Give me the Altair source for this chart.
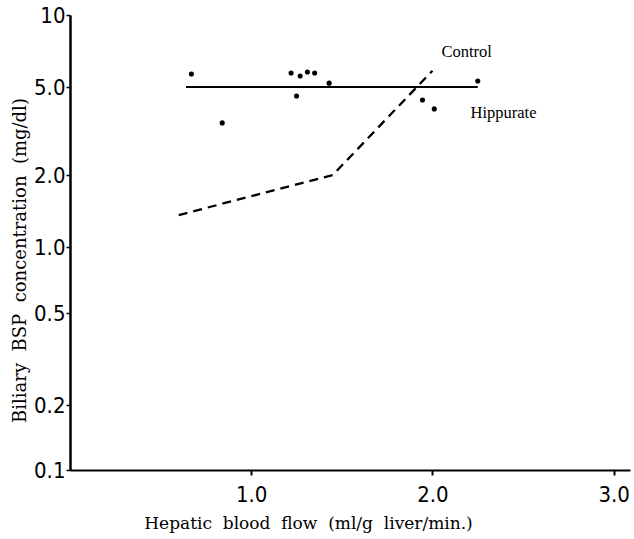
import altair as alt
import pandas as pd

# Hippurate data points
hip_x = [0.67, 0.84, 1.22, 1.27, 1.31, 1.35, 1.43, 1.25, 1.945, 2.01, 2.25]
hip_y = [5.67, 3.44, 5.72, 5.56, 5.78, 5.72, 5.19, 4.55, 4.37, 3.98, 5.30]

# Hippurate mean line
mean_x = [0.64, 2.25]
mean_y = [5.0, 5.0]

# Control dashed line
ctrl_x = [0.60, 1.45, 2.00]
ctrl_y = [1.36, 2.0, 5.85]

lab_text = ["Control", "Hippurate"]
lab_x = [2.05, 2.21]
lab_y = [7.0, 3.8]

y_ticks = [0.1, 0.2, 0.5, 1, 2, 5, 10]
x_ticks = [1, 2, 3]

pts = pd.DataFrame({"x": hip_x, "y": hip_y})
mean = pd.DataFrame({"x": mean_x, "y": mean_y})
ctrl = pd.DataFrame({"x": ctrl_x, "y": ctrl_y})
labs = pd.DataFrame({"x": lab_x, "y": lab_y, "t": lab_text})

serif = "Liberation Serif"
tserif = "DejaVu Serif"
sans = "Liberation Sans Narrow, DejaVu Sans Condensed, sans-serif"
sp = "\u00a0\u00a0"

xs = alt.Scale(domain=[0, 3.09], nice=False, zero=False)
# hand-drawn original axis: tick positions as printed
ys = alt.Scale(type="log", domain=y_ticks, range=[455, 390, 298, 232, 160, 72, 0], nice=False)

xax = alt.Axis(values=x_ticks, labelExpr="format(datum.value, '.1f')",
               title=f"Hepatic{sp}blood{sp}flow{sp}(ml/g{sp}liver/min.)", grid=False,
               domainColor="black", domainWidth=2, tickColor="black", tickSize=5, tickWidth=2,
               labelFont=sans, labelFontSize=22, labelColor="black", labelPadding=9,
               titleFont=tserif, titleFontSize=17, titleFontWeight="normal",
               titleColor="black", titleX=238, titleY=53, titleBaseline="middle",
               titleAnchor="middle", titleAlign="center")
yax = alt.Axis(values=y_ticks,
               labelExpr="datum.value == 10 ? '10' : format(datum.value, '.1f')",
               title=f"Biliary{sp}BSP{sp}concentration{sp}(mg/dl)", grid=False,
               domainColor="black", domainWidth=2.5, tickColor="black", tickSize=4, tickWidth=1.5,
               labelFont=sans, labelFontSize=22, labelColor="black", labelPadding=1,
               titleFont=tserif, titleFontSize=18, titleFontWeight="normal",
               titleColor="black", titleX=-50, titleY=245, titleBaseline="middle",
               titleAlign="center")

base_x = alt.X("x:Q", scale=xs, axis=xax)
base_y = alt.Y("y:Q", scale=ys, axis=yax)

points = alt.Chart(pts).mark_circle(color="black", size=26, opacity=1).encode(x=base_x, y=base_y)
mline = alt.Chart(mean).mark_line(color="black", strokeWidth=2).encode(x=base_x, y=base_y)
cline = alt.Chart(ctrl).mark_line(color="black", strokeWidth=2.3, strokeDash=[9, 6]).encode(x=base_x, y=base_y)
texts = alt.Chart(labs).mark_text(font=serif, fontSize=16.5, color="black", align="left",
                                  baseline="middle").encode(x=base_x, y=base_y, text="t:N")

chart = (mline + cline + points + texts).properties(
    width=560, height=455,
    autosize=alt.AutoSizeParams(type="none"),
    padding={"left": 70, "top": 15, "right": 4, "bottom": 69},
    background="white",
).configure_view(stroke=None)

chart.save("out.html", embed_options={"renderer": "svg", "actions": False})
